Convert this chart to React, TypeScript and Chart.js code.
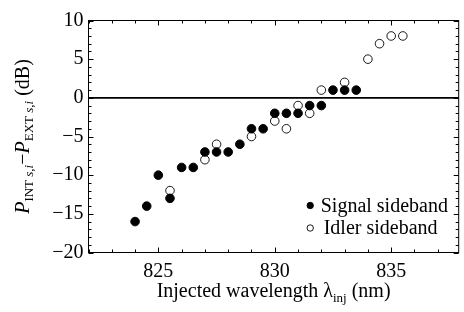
import React, { useEffect, useRef } from 'react';
import { Chart, registerables } from 'chart.js';

Chart.register(...registerables);

// ---- data ----
const signalX = [824, 824.5, 825, 825.5, 826, 826.5, 827, 827.5, 828, 828.5, 829, 829.5, 830, 830.5, 831, 831.5, 832, 832.5, 833, 833.5];
const signalY = [-16, -14, -10, -13, -9, -9, -7, -7, -7, -6, -4, -4, -2, -2, -2, -1, -1, 1, 1, 1];
const idlerX = [825.5, 827, 827.5, 829, 830, 830.5, 831, 831.5, 832, 833, 834, 834.5, 835, 835.5];
const idlerY = [-12, -8, -6, -5, -3, -4, -1, -2, 1, 2, 5, 7, 8, 8];

const seriesLabels = ['Signal sideband', 'Idler sideband'];

const xMin = 822;
const xMax = 837.9;
const yMin = -20;
const yMax = 10;
const xMajorStep = 5;
const yMajorStep = 5;
const minorStep = 1;

const FONT = "'Liberation Serif', 'Times New Roman', Times, serif";

type Seg = { t: string; italic?: boolean; sub?: boolean };

const yTitle: Seg[] = [
  { t: 'P', italic: true },
  { t: 'INT ', sub: true },
  { t: 's,i', sub: true, italic: true },
  { t: '\u2212' },
  { t: 'P', italic: true },
  { t: 'EXT ', sub: true },
  { t: 's,i', sub: true, italic: true },
  { t: ' (dB)' },
];

const xTitle: Seg[] = [
  { t: 'Injected wavelength \u03bb' },
  { t: 'inj', sub: true },
  { t: ' (nm)' },
];

function segFont(s: Seg) {
  const size = s.sub ? 13 : 20;
  return `${s.italic ? 'italic ' : ''}${size}px ${FONT}`;
}

function drawRich(ctx: CanvasRenderingContext2D, segs: Seg[], cx: number, baseline: number) {
  let total = 0;
  const widths = segs.map((s) => {
    ctx.font = segFont(s);
    const w = ctx.measureText(s.t).width;
    total += w;
    return w;
  });
  let x = cx - total / 2;
  ctx.textAlign = 'left';
  ctx.textBaseline = 'alphabetic';
  segs.forEach((s, i) => {
    ctx.font = segFont(s);
    ctx.fillText(s.t, x, baseline + (s.sub ? 4.5 : 0));
    x += widths[i];
  });
}

const decoPlugin = {
  id: 'deco',
  beforeDatasetsDraw(chart: any) {
    const { ctx, chartArea, scales } = chart;
    const y0 = scales.y.getPixelForValue(0);
    ctx.save();
    ctx.strokeStyle = '#000';
    ctx.lineWidth = 1.6;
    ctx.beginPath();
    ctx.moveTo(chartArea.left, y0);
    ctx.lineTo(chartArea.right, y0);
    ctx.stroke();
    ctx.restore();
  },
  afterDatasetsDraw(chart: any) {
    const { ctx, chartArea, scales } = chart;
    const { left, right, top, bottom } = chartArea;
    const xs = scales.x;
    const ys = scales.y;
    ctx.save();
    ctx.strokeStyle = '#000';
    ctx.lineWidth = 1;
    ctx.strokeRect(left, top, right - left, bottom - top);
    ctx.beginPath();
    for (let v = Math.ceil(xMin); v <= xMax; v += minorStep) {
      const len = v % xMajorStep === 0 ? 5 : 3;
      const px = Math.round(xs.getPixelForValue(v)) + 0.5;
      ctx.moveTo(px, bottom);
      ctx.lineTo(px, bottom - len);
      ctx.moveTo(px, top);
      ctx.lineTo(px, top + len);
    }
    for (let v = yMin; v <= yMax; v += minorStep) {
      const len = v % yMajorStep === 0 ? 5 : 3;
      const py = Math.round(ys.getPixelForValue(v)) + 0.5;
      ctx.moveTo(left, py);
      ctx.lineTo(left + len, py);
      ctx.moveTo(right, py);
      ctx.lineTo(right - len, py);
    }
    ctx.stroke();

    // legend
    const ds = chart.data.datasets;
    const lx = right - 148.5;
    const rows = [bottom - 47, bottom - 24.5];
    const textOff = [10.5, 13.5];
    ds.forEach((d: any, i: number) => {
      const ly = rows[i];
      ctx.beginPath();
      ctx.arc(lx, ly, 3.2, 0, Math.PI * 2);
      ctx.fillStyle = d.pointBackgroundColor;
      ctx.fill();
      ctx.lineWidth = 0.9;
      ctx.strokeStyle = '#000';
      ctx.stroke();
      ctx.fillStyle = '#000';
      ctx.font = `20px ${FONT}`;
      ctx.textAlign = 'left';
      ctx.textBaseline = 'alphabetic';
      ctx.fillText(d.label, lx + textOff[i], ly + 6.3);
    });

    ctx.fillStyle = '#000';
    drawRich(ctx, xTitle, (left + right) / 2, 297);
    ctx.save();
    ctx.translate(28.5, (top + bottom) / 2);
    ctx.rotate(-Math.PI / 2);
    drawRich(ctx, yTitle, 0, 0);
    ctx.restore();
    ctx.restore();
  },
};

export default function App() {
  const ref = useRef<HTMLCanvasElement | null>(null);
  useEffect(() => {
    document.body.style.margin = '0';
    const canvas = ref.current;
    if (!canvas) return;
    let chart: Chart | null = null;
    let cancelled = false;
    const build = () => {
      if (cancelled) return;
      chart = new Chart(canvas, {
        type: 'scatter',
        data: {
          datasets: [
            {
              label: seriesLabels[0],
              data: signalX.map((x, i) => ({ x, y: signalY[i] })),
              pointRadius: 4.3,
              pointBackgroundColor: '#000',
              pointBorderColor: '#000',
              pointBorderWidth: 1,
              showLine: false,
            },
            {
              label: seriesLabels[1],
              data: idlerX.map((x, i) => ({ x, y: idlerY[i] })),
              pointRadius: 4.3,
              pointBackgroundColor: '#fff',
              pointBorderColor: '#000',
              pointBorderWidth: 0.9,
              showLine: false,
            },
          ],
        },
        options: {
          animation: false,
          responsive: true,
          maintainAspectRatio: false,
          layout: { padding: { left: 0, top: 20.5, right: 1.5, bottom: 0 } },
          plugins: { legend: { display: false }, tooltip: { enabled: false } },
          scales: {
            x: {
              type: 'linear',
              min: xMin,
              max: xMax,
              afterBuildTicks: (s: any) => {
                const t: any[] = [];
                for (let v = Math.ceil(xMin / xMajorStep) * xMajorStep; v <= xMax; v += xMajorStep) t.push({ value: v });
                s.ticks = t;
              },
              afterFit: (s: any) => {
                s.height = 59.5;
              },
              ticks: {
                color: '#000',
                font: { family: FONT, size: 20 },
                padding: 7,
                maxRotation: 0,
                autoSkip: false,
              },
              grid: { display: false, drawTicks: false },
              border: { display: false },
            },
            y: {
              type: 'linear',
              min: yMin,
              max: yMax,
              afterFit: (s: any) => {
                s.width = 88.5;
              },
              ticks: {
                stepSize: yMajorStep,
                color: '#000',
                font: { family: FONT, size: 20 },
                padding: 5,
                callback: (v: any) => String(v).replace('-', '\u2212'),
              },
              grid: { display: false, drawTicks: false },
              border: { display: false },
            },
          },
        },
        plugins: [decoPlugin],
      });
    };
    const fonts: any = (document as any).fonts;
    if (fonts && fonts.load) {
      Promise.all([
        fonts.load(`20px 'Liberation Serif'`),
        fonts.load(`italic 20px 'Liberation Serif'`),
      ]).then(build, build);
    } else {
      build();
    }
    return () => {
      cancelled = true;
      if (chart) chart.destroy();
    };
  }, []);
  return (
    <div style={{ position: 'relative', width: 464, height: 312 }}>
      <canvas ref={ref} />
    </div>
  );
}
